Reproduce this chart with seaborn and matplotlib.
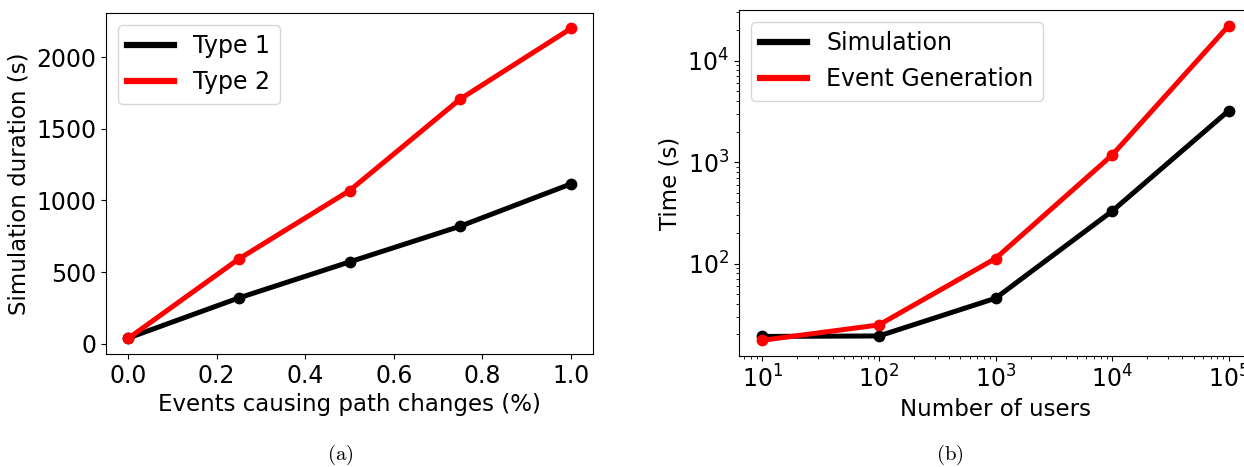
import matplotlib
matplotlib.use("Agg")
import matplotlib.pyplot as plt
import pandas as pd
import seaborn as sns
from matplotlib.lines import Line2D


# (a) share of events causing path changes vs simulation duration
path_change_frac = [0.0, 0.25, 0.5, 0.75, 1.0]
type1_duration = [40, 320, 571, 820, 1115]
type2_duration = [37, 592, 1068, 1707, 2199]

# (b) number of users vs time
n_users = [10, 100, 1000, 10000, 100000]
simulation_time = [19.1, 19.3, 45.4, 328, 3210]
event_gen_time = [17.5, 24.8, 112, 1172, 22100]

COLORS = ["black", "red"]
LINE_KW = dict(linewidth=3.6, marker="o", markersize=8.5, markeredgewidth=0)
TICK_FS = 17
LABEL_FS = 16.5
LEGEND_FS = 17


def legend_handles():
    return [Line2D([0], [0], color=c, linewidth=4.5) for c in COLORS]


def plot_left(ax):
    df = pd.DataFrame(
        {
            "frac": path_change_frac * 2,
            "duration": type1_duration + type2_duration,
            "series": ["Type 1"] * 5 + ["Type 2"] * 5,
        }
    )
    sns.lineplot(data=df, x="frac", y="duration", hue="series",
                 palette=COLORS, ax=ax, legend=False, **LINE_KW)
    ax.set_xlabel("Events causing path changes (%)", fontsize=LABEL_FS)
    ax.set_ylabel("Simulation duration (s)", fontsize=LABEL_FS)
    ax.set_xticks([0.0, 0.2, 0.4, 0.6, 0.8, 1.0])
    ax.set_yticks([0, 500, 1000, 1500, 2000])
    ax.tick_params(labelsize=TICK_FS)
    ax.legend(legend_handles(), ["Type 1", "Type 2"], loc="upper left", fontsize=LEGEND_FS)


def plot_right(ax):
    df = pd.DataFrame(
        {
            "users": n_users * 2,
            "time": simulation_time + event_gen_time,
            "series": ["Simulation"] * 5 + ["Event Generation"] * 5,
        }
    )
    sns.lineplot(data=df, x="users", y="time", hue="series",
                 palette=COLORS, ax=ax, legend=False, **LINE_KW)
    ax.set_xscale("log")
    ax.set_yscale("log")
    ax.set_xlabel("Number of users", fontsize=LABEL_FS)
    ax.set_ylabel("Time (s)", fontsize=LABEL_FS)
    ax.tick_params(labelsize=TICK_FS)
    ax.legend(legend_handles(), ["Simulation", "Event Generation"], loc="upper left", fontsize=LEGEND_FS)


def main():
    plt.rcParams["font.family"] = "DejaVu Sans"
    plt.rcParams["mathtext.fontset"] = "cm"
    fig = plt.figure(figsize=(12.44, 4.67), dpi=100)
    ax_a = fig.add_axes([106 / 1244, 1 - 354 / 467, 487 / 1244, 341 / 467])
    ax_b = fig.add_axes([739 / 1244, 1 - 356 / 467, 513 / 1244, 346 / 467])
    plot_left(ax_a)
    plot_right(ax_b)
    fig.text(340 / 1244, 1 - 455 / 467, r"$\mathrm{(a)}$", ha="center", va="center", fontsize=15)
    fig.text(950 / 1244, 1 - 455 / 467, r"$\mathrm{(b)}$", ha="center", va="center", fontsize=15)
    fig.savefig("out.png", dpi=100)
    plt.close(fig)


if __name__ == "__main__":
    main()
